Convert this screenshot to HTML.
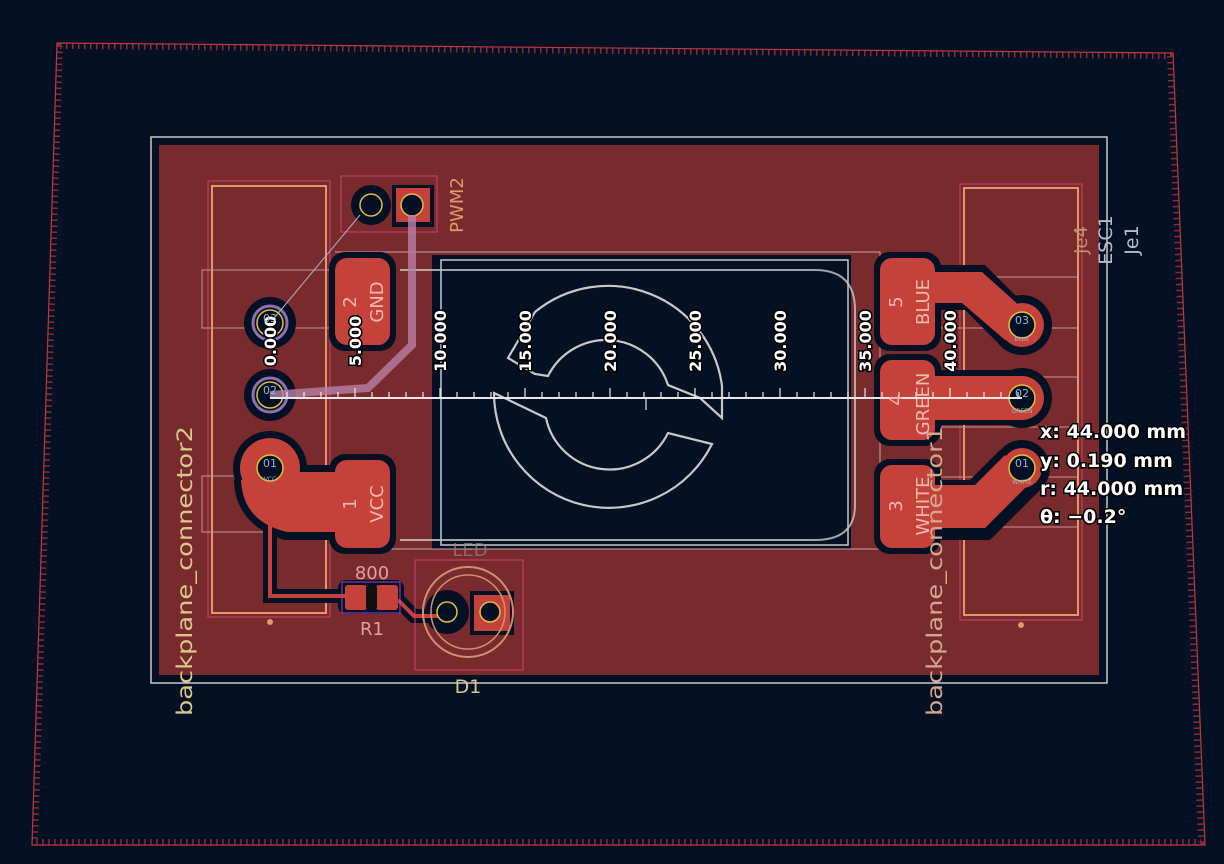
<!DOCTYPE html>
<html><head><meta charset="utf-8"><style>
html,body{margin:0;padding:0;background:#041024;}
svg{display:block;font-family:"DejaVu Sans","Liberation Sans",sans-serif;}
</style></head><body>
<svg width="1224" height="864" viewBox="0 0 1224 864" xmlns="http://www.w3.org/2000/svg">
<rect width="1224" height="864" fill="#041024"/>
<polygon points="57,43 1173,53 1205,845 32,845" fill="none" stroke="#c0393d" stroke-width="1.2"/>
<polygon points="60,46 1170,56 1201,842 35,842" fill="none" stroke="#b8363a" stroke-width="6" stroke-dasharray="1.5 4.5" opacity="0.75"/>
<rect x="151" y="137" width="956" height="546" fill="none" stroke="#c8c8c8" stroke-width="1.5"/>
<rect x="159" y="145" width="940" height="530" fill="#782a2c"/>
<rect x="432" y="255" width="419" height="294" fill="#041024"/>
<rect x="441" y="260" width="407" height="285" fill="none" stroke="#c8c8c8" stroke-width="1.5"/>
<path d="M335,252 H880 V549 H335" fill="none" stroke="#c0a0a0" stroke-width="1.5" opacity="0.7"/>
<path d="M400,270 H815 Q855,270 855,310 V505 Q855,540 815,540 H400" fill="none" stroke="#c8c8c8" stroke-width="2" opacity="0.8"/>
<g fill="none" stroke="#c8c8c8" stroke-width="2.2">
<path d="M535,312 A115,115 0 0 1 722,386 L722,418 L700,398 L668,385 A65,65 0 0 0 548,376 L535,374 L508,358 Z"/>
<path d="M494,393 L546,418 A65,65 0 0 0 668,433 L712,444 A115,115 0 0 1 494,393 Z"/>
</g>
<rect x="208" y="181" width="122" height="436" fill="none" stroke="#d04070" stroke-width="1"/>
<rect x="212" y="186" width="114" height="427" fill="none" stroke="#e09a6a" stroke-width="2"/>
<rect x="202" y="270" width="130" height="58" fill="none" stroke="#c89090" stroke-width="1.5" opacity="0.7"/>
<rect x="202" y="476" width="130" height="56" fill="none" stroke="#c89090" stroke-width="1.5" opacity="0.7"/>
<circle cx="270" cy="622" r="3" fill="#e09a6a"/>
<rect x="960" y="184" width="122" height="436" fill="none" stroke="#d04070" stroke-width="1"/>
<rect x="964" y="188" width="114" height="427" fill="none" stroke="#e09a6a" stroke-width="2"/>
<circle cx="1021" cy="625" r="3" fill="#e09a6a"/>
<g stroke="#c89090" stroke-width="1.5" opacity="0.7">
<line x1="935" y1="277" x2="1078" y2="277"/><line x1="935" y1="328" x2="1078" y2="328"/>
<line x1="935" y1="377" x2="1078" y2="377"/><line x1="935" y1="427" x2="1078" y2="427"/>
<line x1="935" y1="477" x2="1078" y2="477"/><line x1="935" y1="527" x2="1078" y2="527"/>
</g>
<g fill="#041024">
<rect x="329" y="252" width="67" height="99" rx="16"/>
<rect x="329" y="454" width="67" height="100" rx="16"/>
<rect x="874" y="252" width="67" height="99" rx="16"/>
<rect x="874" y="354" width="67" height="92" rx="16"/>
<rect x="874" y="459" width="67" height="95" rx="16"/>
<circle cx="270" cy="323" r="26"/><circle cx="270" cy="395" r="26"/>
<circle cx="270" cy="468" r="37"/>
<path d="M262,465 H345 V540 H285 Q235,525 234,480 Z"/>
<path d="M930,265 H985 L1040,320 V335 L1000,345 L965,310 H930 Z"/>
<circle cx="1022" cy="325" r="30"/>
<rect x="930" y="370" width="92" height="55"/><circle cx="1022" cy="398" r="30"/>
<path d="M930,480 H970 L1000,450 L1040,455 L1045,485 L990,540 H930 Z"/>
<circle cx="1022" cy="468" r="28"/>
<circle cx="371" cy="205" r="20"/><rect x="392" y="185" width="42" height="42"/>
<circle cx="447" cy="612" r="22"/><rect x="470" y="591" width="44" height="44"/>
<rect x="338" y="580" width="66" height="34" rx="8"/>
</g>
<path d="M270,500 V596 H350" fill="none" stroke="#041024" stroke-width="14"/>
<path d="M270,500 V596 H350" fill="none" stroke="#c4423a" stroke-width="4"/>
<path d="M398,600 L414,616 H447" fill="none" stroke="#041024" stroke-width="14"/>
<path d="M398,600 L414,616 H447" fill="none" stroke="#c4423a" stroke-width="4"/>
<g fill="#c4423a">
<rect x="335" y="258" width="55" height="87" rx="12"/>
<rect x="335" y="460" width="55" height="88" rx="12"/>
<path d="M270,472 H350 V532 H287 Q243,522 241,480 Z"/>
<circle cx="270" cy="468" r="30"/>
<rect x="880" y="258" width="55" height="87" rx="12"/>
<rect x="880" y="360" width="55" height="80" rx="12"/>
<rect x="880" y="465" width="55" height="83" rx="12"/>
<path d="M930,272 H982 L1030,315 L1005,340 L962,303 H930 Z"/>
<circle cx="1022" cy="325" r="22"/>
<rect x="930" y="376" width="92" height="44"/><circle cx="1022" cy="398" r="22"/>
<path d="M930,485 H975 L1005,455 L1035,478 L985,528 H930 Z"/>
<circle cx="1022" cy="468" r="20"/>
<rect x="396" y="188" width="34" height="34"/>
<rect x="474" y="595" width="36" height="36"/>
<rect x="345" y="585" width="22" height="25" rx="3"/><rect x="376" y="585" width="22" height="25" rx="3"/>
</g>
<rect x="366" y="587" width="11" height="21" fill="#111"/>
<rect x="342" y="582" width="58" height="31" fill="none" stroke="#a040d0" stroke-width="1"/>
<g stroke="#e0c040" stroke-width="1.5" fill="#041024">
<circle cx="270" cy="323" r="13"/><circle cx="270" cy="395" r="13"/><circle cx="270" cy="468" r="13"/>
<circle cx="1022" cy="325" r="13"/><circle cx="1022" cy="398" r="13"/><circle cx="1022" cy="468" r="13"/>
<circle cx="371" cy="205" r="11"/><circle cx="412" cy="205" r="11"/>
<circle cx="447" cy="612" r="10"/><circle cx="490" cy="612" r="10"/>
</g>
<circle cx="270" cy="323" r="17" fill="none" stroke="#9070b0" stroke-width="3"/>
<circle cx="270" cy="395" r="17" fill="none" stroke="#9070b0" stroke-width="3"/>
<rect x="341" y="176" width="96" height="56" fill="none" stroke="#d04070" stroke-width="1"/>
<rect x="415" y="560" width="108" height="110" fill="none" stroke="#d04070" stroke-width="1"/>
<circle cx="468" cy="612" r="45" fill="none" stroke="#d09070" stroke-width="2"/>
<circle cx="468" cy="612" r="37" fill="none" stroke="#d09070" stroke-width="1.5"/>
<path d="M412,215 V345 L368,388 L270,395" fill="none" stroke="#b880a8" stroke-width="8" opacity="0.8"/>
<line x1="360" y1="215" x2="270" y2="323" stroke="#b0b0c0" stroke-width="1"/>
<line x1="270" y1="398" x2="1022" y2="398" stroke="#e8e8e8" stroke-width="2"/>
<g stroke="#e8e8e8" stroke-width="1.2">
<path d="M287,398v-6M304,398v-6M321,398v-6M338,398v-6M355,398v-10M372,398v-6M389,398v-6M406,398v-6M423,398v-6M440,398v-10M457,398v-6M474,398v-6M491,398v-6M508,398v-6M525,398v-10M542,398v-6M559,398v-6M576,398v-6M593,398v-6M610,398v-10M627,398v-6M644,398v-6M661,398v-6M678,398v-6M695,398v-10M712,398v-6M729,398v-6M746,398v-6M763,398v-6M780,398v-10M797,398v-6M814,398v-6M831,398v-6M848,398v-6M865,398v-10M882,398v-6M899,398v-6M916,398v-6M933,398v-6M950,398v-10M967,398v-6M984,398v-6M1001,398v-6M1018,398v-6"/>
<path d="M646,398v12"/>
</g>
<g font-size="16" font-weight="bold" fill="#ffffff" stroke="#000" stroke-width="3" paint-order="stroke" text-anchor="middle">
<text transform="translate(276,341) rotate(-90)">0.000</text>
<text transform="translate(361,341) rotate(-90)">5.000</text>
<text transform="translate(446,341) rotate(-90)">10.000</text>
<text transform="translate(531,341) rotate(-90)">15.000</text>
<text transform="translate(616,341) rotate(-90)">20.000</text>
<text transform="translate(701,341) rotate(-90)">25.000</text>
<text transform="translate(786,341) rotate(-90)">30.000</text>
<text transform="translate(871,341) rotate(-90)">35.000</text>
<text transform="translate(956,341) rotate(-90)">40.000</text>
</g>
<g font-size="18" fill="#f0b8b0" text-anchor="middle">
<text transform="translate(356,302) rotate(-90)">2</text>
<text transform="translate(383,302) rotate(-90)">GND</text>
<text transform="translate(356,504) rotate(-90)">1</text>
<text transform="translate(383,504) rotate(-90)">VCC</text>
<text transform="translate(902,302) rotate(-90)">5</text>
<text transform="translate(929,302) rotate(-90)">BLUE</text>
<text transform="translate(902,400) rotate(-90)">4</text>
<text transform="translate(929,404) rotate(-90)">GREEN</text>
<text transform="translate(902,506) rotate(-90)">3</text>
<text transform="translate(929,506) rotate(-90)">WHITE</text>
</g>
<g font-size="11" fill="#9fb0d0" text-anchor="middle">
<text x="270" y="322">03</text><text x="270" y="394">02</text><text x="270" y="467">01</text>
<text x="1022" y="324">03</text><text x="1022" y="397">02</text><text x="1022" y="467">01</text>
</g>
<g font-size="6" fill="#9fb0d0" text-anchor="middle">
<text x="270" y="481">VCC</text><text x="1022" y="341">BLUE</text><text x="1022" y="413">GREEN</text><text x="1022" y="484">WHITE</text>
</g>
<g font-size="18" fill="#e09a6a" text-anchor="middle">
<text transform="translate(463,205) rotate(-90)">PWM2</text>
<text transform="translate(1087,240) rotate(-90)" fill="#c09070">Je4</text>
</g>
<g font-size="19" fill="#b8bcc8" text-anchor="middle">
<text transform="translate(1112,240) rotate(-90)">ESC1</text>
<text transform="translate(1138,240) rotate(-90)">Je1</text>
</g>
<g font-size="21" fill="#d8c88a" text-anchor="start">
<text transform="translate(192,716) rotate(-90)" textLength="290" lengthAdjust="spacingAndGlyphs">backplane_connector2</text>
<text transform="translate(942,716) rotate(-90)" fill="#d0a890" textLength="290" lengthAdjust="spacingAndGlyphs">backplane_connector1</text>
</g>
<text x="468" y="693" font-size="19" fill="#d8c88a" text-anchor="middle">D1</text>
<g font-size="18" fill="#e0a0a0" text-anchor="middle">
<text x="372" y="579">800</text>
<text x="372" y="635">R1</text>
<text x="470" y="556" fill="#a08080" opacity="0.7">LED</text>
</g>
<g font-size="19" font-weight="bold" fill="#ffffff" stroke="#000" stroke-width="3" paint-order="stroke">
<text x="1040" y="438">x: 44.000 mm</text>
<text x="1040" y="467">y: 0.190 mm</text>
<text x="1040" y="495">r: 44.000 mm</text>
<text x="1040" y="523">θ: −0.2°</text>
</g>
</svg>
</body></html>
